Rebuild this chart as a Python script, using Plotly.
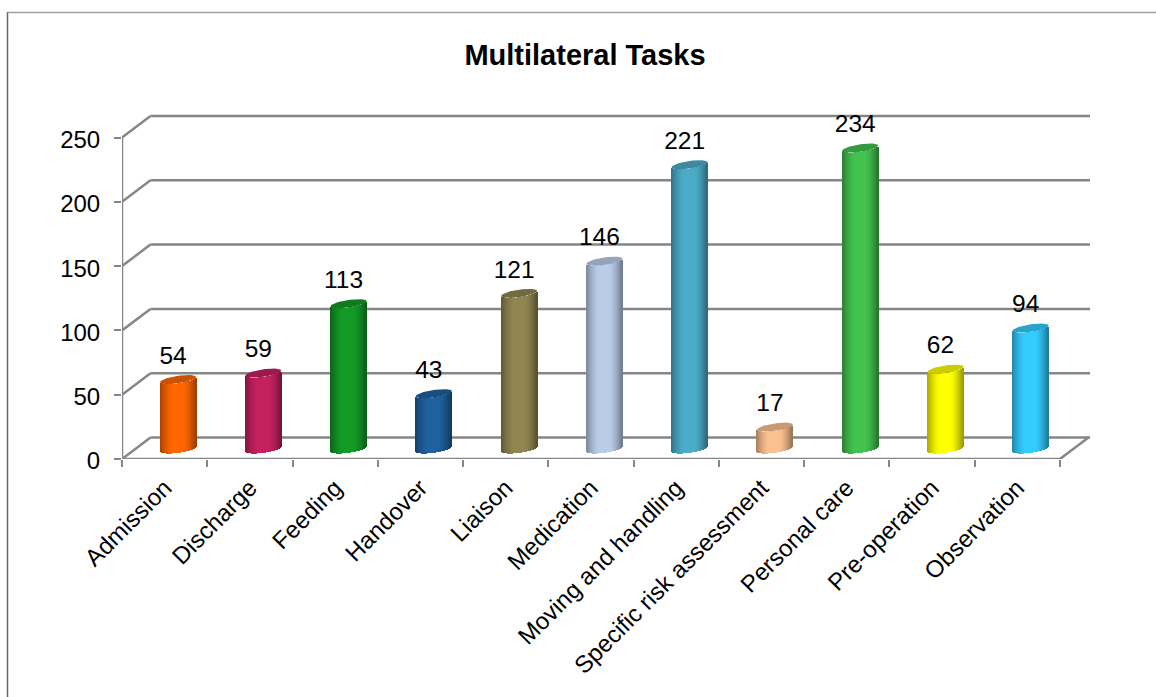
import math
import plotly.graph_objects as go

categories = ["Admission", "Discharge", "Feeding", "Handover", "Liaison", "Medication",
              "Moving and handling", "Specific risk assessment", "Personal care",
              "Pre-operation", "Observation"]
values = [54, 59, 113, 43, 121, 146, 221, 17, 234, 62, 94]
colors = ["#FF6600", "#C6215F", "#149A26", "#1F619F", "#8F8650", "#B9CDE9",
          "#4BACC8", "#FAC090", "#42C24E", "#FFFF00", "#33CCFF"]
y_ticks = [0, 50, 100, 150, 200, 250]

W, H = 1156, 697
L, R, T, B = 122, 1094, 108, 459         # plot box in page pixels
WALL_R = 1090                            # right end of the back wall
PX_X = 85.27                             # pixels per category
PX_Y = 1.286                             # pixels per value unit
DX, DY = 28.5, 21.5                      # depth of the box
BAR_A, BAR_B, BAR_TILT = 18, 3.8, 2.5    # cylinder ellipse
BAR_DX, BAR_DY = 13.4, 10                # cylinder offset into the box

GRID = "#868686"
x_range = [-0.5, -0.5 + (R - L) / PX_X]
y_range = [0, (B - T) / PX_Y]
dx_depth, dy_depth = DX / PX_X, DY / PX_Y
x_last = len(categories) - 0.5
x_wall = -0.5 + (WALL_R - L) / PX_X


def shade(hex_color, k):
    r, g, b = (int(hex_color[i:i + 2], 16) for i in (1, 3, 5))
    return f"rgb({int(r * k)},{int(g * k)},{int(b * k)})"


def profile(u):
    if u < -0.3:
        return 1 - 0.35 * ((-u - 0.3) / 0.7) ** 1.5
    if u > 0.3:
        return 1 - 0.40 * ((u - 0.3) / 0.7) ** 1.5
    return 1


fig = go.Figure()

# cylinder bodies: one-pixel vertical strips, each a bar of the true value
n_strips = int(2 * BAR_A)
x_centers = [i + BAR_DX / PX_X for i in range(len(categories))]
base0 = BAR_DY / PX_Y
for s in range(n_strips):
    u = (s + 0.5) / n_strips * 2 - 1
    edge = (-BAR_B * math.sqrt(1 - u * u) + BAR_TILT * u) / PX_Y
    fig.add_trace(go.Bar(
        x=[c + u * BAR_A / PX_X for c in x_centers],
        y=values,
        base=[base0 + edge] * len(values),
        width=1.0 / PX_X,
        marker=dict(color=[shade(c, profile(u)) for c in colors], line=dict(width=0)),
        showlegend=False, hoverinfo="skip",
    ))

# top caps
for c, v, col in zip(x_centers, values, colors):
    ts = [2 * math.pi * k / 72 for k in range(73)]
    fig.add_trace(go.Scatter(
        x=[c + BAR_A * math.cos(t) / PX_X for t in ts],
        y=[base0 + v + (BAR_B * math.sin(t) + BAR_TILT * math.cos(t)) / PX_Y for t in ts],
        mode="lines", fill="toself", fillcolor=shade(col, 0.8),
        line=dict(width=0), showlegend=False, hoverinfo="skip",
    ))

# data labels
fig.add_trace(go.Scatter(
    x=[c - 5 / PX_X for c in x_centers],
    y=[base0 + v + 22 / PX_Y for v in values],
    text=[str(v) for v in values], mode="text", textposition="middle center",
    textfont=dict(family="Liberation Sans", size=24.5, color="#000000"),
    showlegend=False, hoverinfo="skip",
))

shapes = []
line = dict(color=GRID, width=2.5)


def seg(x0, y0, x1, y1):
    shapes.append(dict(type="line", xref="x", yref="y", x0=x0, y0=y0, x1=x1, y1=y1,
                       line=line, layer="below"))


for v in y_ticks:
    seg(-0.5, v, -0.5 + dx_depth, v + dy_depth)
    seg(-0.5 + dx_depth, v + dy_depth, x_wall, v + dy_depth)
seg(-0.5, 0, -0.5, y_ticks[-1])
seg(-0.5, 0, x_last, 0)
seg(x_last, 0, x_last + dx_depth, dy_depth)

# chart frame, in page pixels converted to paper coordinates
px = lambda x: (x - L) / (R - L)
py = lambda y: (B - y) / (B - T)
shapes.append(dict(type="line", xref="paper", yref="paper", x0=px(7.5), x1=px(7.5), y0=py(12), y1=py(H),
                   line=dict(color="#666666", width=1.5)))
shapes.append(dict(type="line", xref="paper", yref="paper", x0=px(7.5), x1=px(W), y0=py(12.5), y1=py(12.5),
                   line=dict(color="#A0A0A0", width=1.5)))

fig.update_layout(
    width=W, height=H, autosize=False,
    margin=dict(l=L, r=W - R, t=T, b=H - B, pad=0),
    paper_bgcolor="white", plot_bgcolor="white",
    barmode="overlay", bargap=0, showlegend=False,
    shapes=shapes,
    title=dict(text="<b>Multilateral Tasks</b>", x=585 / W, xanchor="center", y=1 - 55 / H, yanchor="middle",
               font=dict(family="Liberation Sans", size=29, color="#000000")),
    xaxis=dict(range=x_range, tickmode="array",
               tickvals=list(range(len(categories))), ticktext=categories,
               tickangle=-45, ticks="", showgrid=False, zeroline=False, showline=False,
               ticklabelstandoff=9,
               tickfont=dict(family="Liberation Sans", size=24, color="#000000"),
               minor=dict(tickmode="array", tickvals=[i - 0.5 for i in range(len(categories) + 1)],
                          ticks="outside", ticklen=7, tickwidth=2, tickcolor=GRID, showgrid=False)),
    yaxis=dict(range=y_range, tickmode="array", tickvals=y_ticks, ticks="outside", ticklen=7,
               tickwidth=2, tickcolor=GRID, showgrid=False, zeroline=False, showline=False,
               ticklabelstandoff=9, ticklabelshift=2,
               tickfont=dict(family="Liberation Sans", size=24, color="#000000")),
)

fig.write_html("out.html", config=dict(displayModeBar=False),
               post_script="document.body.style.margin='0';document.body.style.overflow='hidden';")
